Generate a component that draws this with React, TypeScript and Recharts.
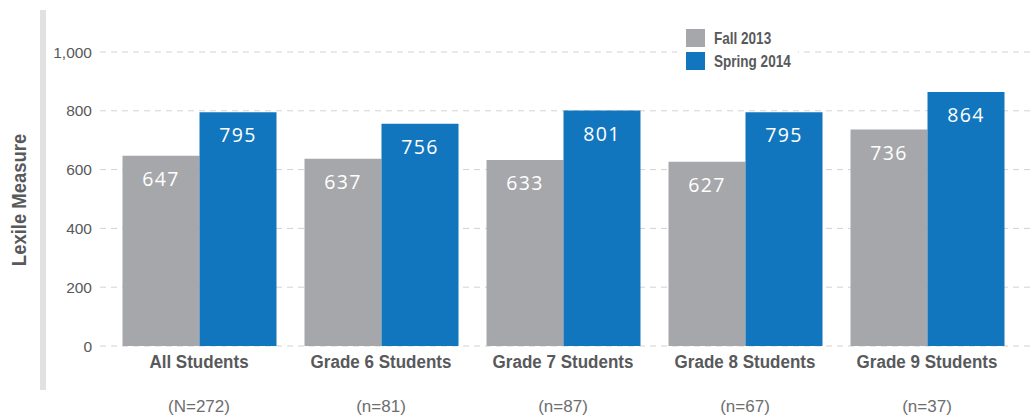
import React from 'react';
import { BarChart, Bar, XAxis, YAxis, CartesianGrid, Legend, LabelList, Label } from 'recharts';

const categories = ['All Students', 'Grade 6 Students', 'Grade 7 Students', 'Grade 8 Students', 'Grade 9 Students'];
const sampleSizes = ['(N=272)', '(n=81)', '(n=87)', '(n=67)', '(n=37)'];
const fall2013 = [647, 637, 633, 627, 736];
const spring2014 = [795, 756, 801, 795, 864];
const yTicks = [0, 200, 400, 600, 800, 1000];
const seriesNames = ['Fall 2013', 'Spring 2014'];

const GRAY = '#a6a7aa';
const BLUE = '#1276be';
const TEXT = '#58595b';
const SANS = '"Liberation Sans", Arial, sans-serif';

const data = categories.map((c, i) => ({
  name: c,
  n: sampleSizes[i],
  fall: fall2013[i],
  spring: spring2014[i],
}));

const XTick = (props: any) => {
  const { x, y, payload, index } = props;
  const n = sampleSizes[index ?? payload.index] ?? '';
  return (
    <g>
      <text
        transform={`translate(${x} ${y + 21.5}) scale(0.92 1)`}
        x={0}
        y={0}
        textAnchor="middle"
        fill={TEXT}
        fontFamily={SANS}
        fontWeight="bold"
        fontSize={18.5}
      >
        {payload.value}
      </text>
      <text x={x} y={y + 66} textAnchor="middle" fill="#6d6e70" fontFamily={SANS} fontSize={17}>
        {n}
      </text>
    </g>
  );
};

const valueLabel = (props: any) => {
  const x = Number(props.x);
  const y = Number(props.y);
  const w = Number(props.width);
  return (
    <text x={x + w / 2} y={y + 30} textAnchor="middle" fill="#ffffff" fontFamily='"Open Sans", sans-serif' fontSize={19.5} letterSpacing={1.3}>
      {props.value}
    </text>
  );
};

const renderLegend = (props: any) => {
  const payload = props.payload || [];
  const items = seriesNames.map((name, i) => {
    const p = payload.find((q: any) => q.value === name);
    return { name, color: p ? p.color : i === 0 ? GRAY : BLUE };
  });
  return (
    <div style={{ position: 'relative', width: 121, height: 53, background: '#fff' }}>
      {items.map((it, i) => (
        <div key={it.name} style={{ position: 'absolute', left: 9, top: 7 + i * 23, height: 18, display: 'flex', alignItems: 'center' }}>
          <div style={{ width: 19, height: 18, background: it.color, flexShrink: 0 }} />
          <span
            style={{
              marginLeft: 9,
              fontFamily: SANS,
              fontWeight: 'bold',
              fontSize: 16.5,
              color: TEXT,
              lineHeight: '18px',
              whiteSpace: 'nowrap',
              display: 'inline-block',
              transform: 'scaleX(0.82)',
              transformOrigin: 'left center',
            }}
          >
            {it.name}
          </span>
        </div>
      ))}
    </div>
  );
};

const yLabel = (props: any) => {
  const vb = props.viewBox || { x: 0, y: 52, width: 100, height: 294 };
  const cx = 18.5;
  const cy = vb.y + vb.height / 2 + 1;
  return (
    <text
      transform={`translate(${cx} ${cy}) rotate(-90) scale(0.9 1)`}
      x={0}
      y={7}
      textAnchor="middle"
      fill={TEXT}
      fontFamily={SANS}
      fontWeight="bold"
      fontSize={20.5}
    >
      Lexile Measure
    </text>
  );
};

export default function App() {
  return (
    <div style={{ position: 'absolute', left: 0, top: 0, width: 1032, height: 420, background: '#fff' }}>
      <div style={{ position: 'absolute', left: 40, top: 10, width: 6, height: 380, background: '#e1e1e2' }} />
      <BarChart
        width={1032}
        height={420}
        data={data}
        margin={{ top: 52, right: 0, bottom: 0, left: 0 }}
        barCategoryGap={14.5}
        barGap={0}
      >
        <CartesianGrid horizontal vertical={false} stroke="#d2d2d2" strokeDasharray="6 5" />
        <XAxis
          dataKey="name"
          axisLine={false}
          tickLine={false}
          tickSize={0}
          tickMargin={0}
          height={74}
          interval={0}
          padding={{ left: 8, right: 14 }}
          tick={<XTick />}
        />
        <YAxis
          width={100}
          domain={[0, 1000]}
          ticks={yTicks}
          axisLine={false}
          tickLine={false}
          tickFormatter={(v: number) => v.toLocaleString('en-US')}
          tick={{ fill: TEXT, fontSize: 15.5, fontFamily: SANS }}
        >
          <Label content={yLabel} />
        </YAxis>
        <Legend
          layout="vertical"
          align="center"
          verticalAlign="middle"
          content={renderLegend}
          wrapperStyle={{ position: 'absolute', left: 677, top: 22, width: 121, height: 53 }}
        />
        <Bar dataKey="fall" name={seriesNames[0]} fill={GRAY} isAnimationActive={false}>
          <LabelList dataKey="fall" content={valueLabel} />
        </Bar>
        <Bar dataKey="spring" name={seriesNames[1]} fill={BLUE} isAnimationActive={false}>
          <LabelList dataKey="spring" content={valueLabel} />
        </Bar>
      </BarChart>
    </div>
  );
}
